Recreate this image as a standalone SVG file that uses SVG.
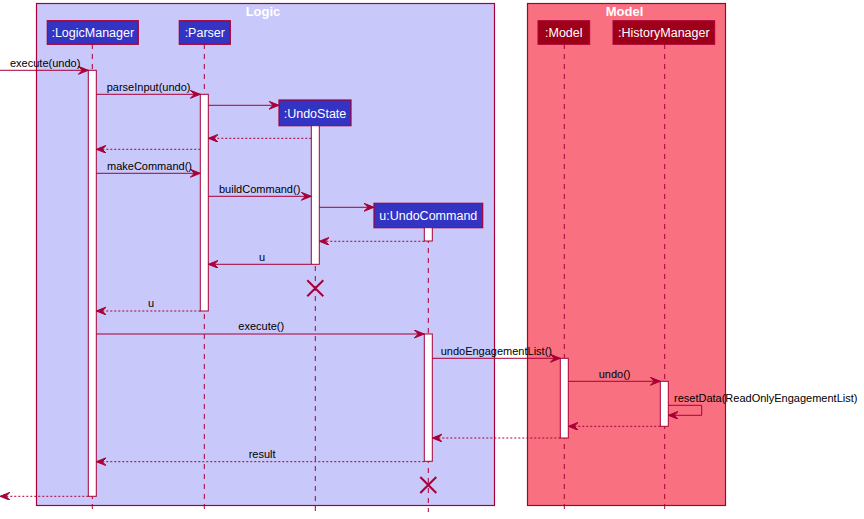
<svg xmlns="http://www.w3.org/2000/svg" width="864" height="519" viewBox="0 0 864 519">
<style>
.box{stroke:#A80036;stroke-width:1.2}
.ptxt{font-family:"Liberation Sans",Arial,sans-serif;font-size:12.5px;fill:#FFFFFF;text-anchor:middle}
.ttl{font-family:"Liberation Sans",Arial,sans-serif;font-size:13px;font-weight:bold;fill:#FFFFFF;text-anchor:middle}
.mtxt{font-family:"Liberation Sans",Arial,sans-serif;font-size:11px;fill:#000000}
.life{stroke:#A80036;stroke-width:1;stroke-dasharray:5,5;fill:none}
.act{fill:#FFFFFF;stroke:#A80036;stroke-width:1}
.msg{stroke:#A80036;stroke-width:1;fill:none;marker-end:url(#ah)}
.ret{stroke:#A80036;stroke-width:1;fill:none;stroke-dasharray:2,2;marker-end:url(#ah)}
.x{stroke:#A80036;stroke-width:2}
</style>
<defs>
<marker id="ah" markerUnits="userSpaceOnUse" markerWidth="12" markerHeight="10" refX="10" refY="4" orient="auto" viewBox="0 0 12 10">
<path d="M0,0 L10,4 L0,8 L4,4 Z" fill="#A80036" stroke="#A80036" stroke-width="1"/>
</marker>
</defs>
<g id="box-logic">
<rect x="36.5" y="3.5" width="458" height="502" fill="#C8C8FA" class="box"/>
<text x="263" y="16" class="ttl">Logic</text>
</g>
<g id="box-model">
<rect x="527.5" y="3.5" width="198" height="502" fill="#F97181" class="box"/>
<text x="624.5" y="16" class="ttl">Model</text>
</g>
<g id="lifelines">
<line x1="92.3" y1="44" x2="92.3" y2="512" class="life"/>
<line x1="204.3" y1="44" x2="204.3" y2="512" class="life"/>
<line x1="315.3" y1="126" x2="315.3" y2="512" class="life"/>
<line x1="428.3" y1="228" x2="428.3" y2="512" class="life"/>
<line x1="564.3" y1="44" x2="564.3" y2="512" class="life"/>
<line x1="664.7" y1="44" x2="664.7" y2="512" class="life"/>
</g>
<g id="LogicManager">
<rect x="47.3" y="20.7" width="91" height="23.6" fill="#3333C4" class="box"/>
<text x="92.8" y="37" class="ptxt">:LogicManager</text>
<rect x="88.3" y="70.3" width="8" height="426" class="act"/>
</g>
<g id="Parser">
<rect x="179.3" y="20.7" width="51" height="23.6" fill="#3333C4" class="box"/>
<text x="204.8" y="37" class="ptxt">:Parser</text>
<rect x="200.3" y="94.3" width="8" height="216.7" class="act"/>
</g>
<g id="UndoState">
<rect x="279" y="100" width="72" height="25.7" fill="#3333C4" class="box"/>
<text x="315" y="117.5" class="ptxt">:UndoState</text>
<rect x="311.3" y="125.7" width="8" height="138.6" class="act"/>
<path d="M307.3,280.3 L323.3,296.3 M323.3,280.3 L307.3,296.3" class="x"/>
</g>
<g id="UndoCommand">
<rect x="374" y="203.3" width="108.7" height="24.4" fill="#3333C4" class="box"/>
<text x="428.3" y="220" class="ptxt">u:UndoCommand</text>
<rect x="424.3" y="227.7" width="8" height="13.3" class="act"/>
<rect x="424.3" y="334" width="8" height="127.3" class="act"/>
<path d="M420.3,477 L436.3,493 M436.3,477 L420.3,493" class="x"/>
</g>
<g id="Model">
<rect x="538" y="20.7" width="51.7" height="23.6" fill="#9D0018" stroke="#A80036" stroke-width="1"/>
<text x="563.8" y="37" class="ptxt">:Model</text>
<rect x="560.3" y="358.3" width="8" height="79.7" class="act"/>
</g>
<g id="HistoryManager">
<rect x="613" y="20.7" width="101.7" height="23.6" fill="#9D0018" stroke="#A80036" stroke-width="1"/>
<text x="663.8" y="37" class="ptxt">:HistoryManager</text>
<rect x="660.3" y="381.3" width="8" height="45" class="act"/>
</g>
<g id="connectors">
<line x1="0" y1="70.3" x2="88.3" y2="70.3" class="msg"/>
<text x="10" y="66.5" class="mtxt">execute(undo)</text>
<line x1="96.3" y1="94.3" x2="200.3" y2="94.3" class="msg"/>
<text x="106.7" y="90.5" class="mtxt">parseInput(undo)</text>
<line x1="208.3" y1="105.3" x2="279" y2="105.3" class="msg"/>
<line x1="311.3" y1="138.3" x2="208.3" y2="138.3" class="ret"/>
<line x1="200.3" y1="149.3" x2="96.3" y2="149.3" class="ret"/>
<line x1="96.3" y1="173.3" x2="200.3" y2="173.3" class="msg"/>
<text x="107" y="169.5" class="mtxt">makeCommand()</text>
<line x1="208.3" y1="196.3" x2="311.3" y2="196.3" class="msg"/>
<text x="219" y="192.5" class="mtxt">buildCommand()</text>
<line x1="319.3" y1="207.3" x2="374" y2="207.3" class="msg"/>
<line x1="424.3" y1="241.3" x2="319.3" y2="241.3" class="ret"/>
<line x1="311.3" y1="264.3" x2="208.3" y2="264.3" class="msg"/>
<text x="259" y="260.5" class="mtxt">u</text>
<line x1="200.3" y1="311" x2="96.3" y2="311" class="ret"/>
<text x="148" y="307.2" class="mtxt">u</text>
<line x1="96.3" y1="334" x2="424.3" y2="334" class="msg"/>
<text x="238.3" y="330.2" class="mtxt">execute()</text>
<line x1="432.3" y1="358.3" x2="560.3" y2="358.3" class="msg"/>
<text x="440.7" y="354.5" class="mtxt">undoEngagementList()</text>
<line x1="568.3" y1="381.3" x2="660.3" y2="381.3" class="msg"/>
<text x="598.7" y="377.5" class="mtxt">undo()</text>
<polyline points="668.3,405.3 701.7,405.3 701.7,415.3 668.3,415.3" class="msg"/>
<text x="674" y="401.5" class="mtxt">resetData(ReadOnlyEngagementList)</text>
<line x1="660.3" y1="426.3" x2="568.3" y2="426.3" class="ret"/>
<line x1="560.3" y1="438" x2="432.3" y2="438" class="ret"/>
<line x1="424.3" y1="461.7" x2="96.3" y2="461.7" class="ret"/>
<text x="248.7" y="457.9" class="mtxt">result</text>
<line x1="88.3" y1="496.3" x2="0" y2="496.3" class="ret"/>
</g>
</svg>
